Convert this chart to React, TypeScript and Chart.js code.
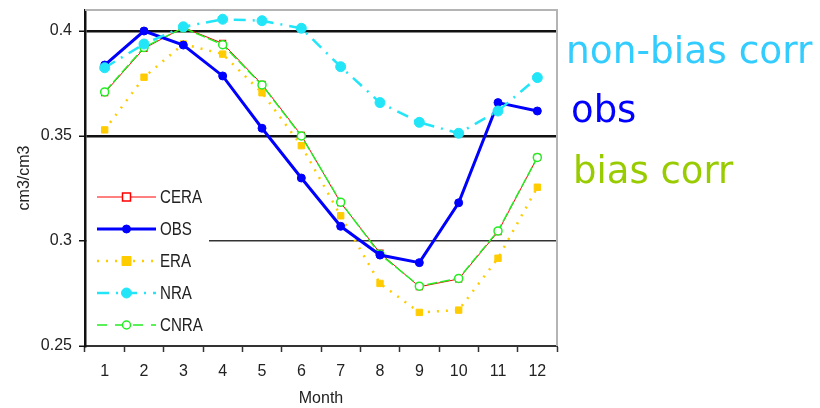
import React, { useEffect, useRef } from 'react';
import { Chart, registerables } from 'chart.js';

Chart.register(...registerables);

const months = ['1', '2', '3', '4', '5', '6', '7', '8', '9', '10', '11', '12'];
const cera = [0.3706, 0.3917, 0.4017, 0.3941, 0.3746, 0.3503, 0.3182, 0.2943, 0.2782, 0.2819, 0.3044, 0.3398];
const obs = [0.3838, 0.4, 0.3933, 0.3786, 0.3537, 0.33, 0.307, 0.2933, 0.2897, 0.3182, 0.3659, 0.3619];
const era = [0.3529, 0.378, 0.3938, 0.389, 0.3706, 0.3454, 0.312, 0.2798, 0.266, 0.2671, 0.2918, 0.3256];
const nra = [0.3825, 0.3938, 0.402, 0.4056, 0.4049, 0.4013, 0.383, 0.3659, 0.3565, 0.3513, 0.3619, 0.3778];
const cnra = [0.371, 0.3922, 0.4015, 0.3935, 0.3743, 0.35, 0.3185, 0.2937, 0.2785, 0.2822, 0.3048, 0.3398];
const yTicks = [0.25, 0.3, 0.35, 0.4];
const noteTexts = ['non-bias corr', 'obs', 'bias corr'];
const noteColors = ['#33ccff', '#0000ff', '#99cc00'];

const FONT = "'Liberation Sans', Arial, sans-serif";

const framePlugin = {
  id: 'frameAndLegend',
  beforeDatasetsDraw(chart: any) {
    const { ctx, chartArea } = chart;
    const { left, right, top, bottom } = chartArea;
    ctx.save();
    ctx.strokeStyle = '#b4b4b4';
    ctx.lineWidth = 2;
    ctx.beginPath();
    ctx.moveTo(left, top);
    ctx.lineTo(right, top);
    ctx.lineTo(right, bottom);
    ctx.stroke();
    ctx.fillStyle = '#ffffff';
    ctx.fillRect(left + 2, 183, 209 - left - 2, 156);
    const rowY0 = 197;
    const rowStep = 32;
    chart.data.datasets.forEach((ds: any, i: number) => {
      const y = rowY0 + i * rowStep;
      ctx.save();
      ctx.strokeStyle = ds.borderColor;
      ctx.lineWidth = ds.borderWidth;
      ctx.setLineDash(ds.legendDash || ds.borderDash || []);
      ctx.beginPath();
      ctx.moveTo(97, y);
      ctx.lineTo(156, y);
      ctx.stroke();
      ctx.setLineDash([]);
      const r = ds.pointRadius;
      ctx.fillStyle = ds.pointBackgroundColor;
      ctx.strokeStyle = ds.pointBorderColor;
      ctx.lineWidth = ds.pointBorderWidth;
      ctx.beginPath();
      if (ds.pointStyle === 'rect') {
        ctx.rect(126.5 - r, y - r, 2 * r, 2 * r);
      } else {
        ctx.arc(126.5, y, r, 0, Math.PI * 2);
      }
      ctx.fill();
      ctx.stroke();
      ctx.restore();
      ctx.save();
      ctx.fillStyle = '#222';
      ctx.font = `18px ${FONT}`;
      ctx.textBaseline = 'middle';
      ctx.textAlign = 'left';
      ctx.translate(160, y + 1);
      ctx.scale(0.84, 1);
      ctx.fillText(ds.label, 0, 0);
      ctx.restore();
    });
    ctx.restore();
  },
  afterDraw(chart: any) {
    const { ctx } = chart;
    ctx.save();
    ctx.textBaseline = 'alphabetic';
    ctx.textAlign = 'left';
    const xs = [566, 571, 573];
    const ys = [63, 122, 183];
    const sizes = [37.5, 37, 37];
    noteTexts.forEach((t, i) => {
      ctx.font = `${sizes[i]}px 'DejaVu Sans', Verdana, sans-serif`;
      ctx.fillStyle = noteColors[i];
      ctx.fillText(t, xs[i], ys[i]);
    });
    ctx.restore();
  },
};

export default function App() {
  const ref = useRef<HTMLCanvasElement>(null);
  useEffect(() => {
    if (!ref.current) return;
    const chart = new Chart(ref.current, {
      type: 'line',
      data: {
        labels: months,
        datasets: [
          {
            label: 'CERA',
            data: cera,
            borderColor: '#ff0000',
            borderWidth: 1,
            pointStyle: 'rect',
            pointRadius: 4,
            pointBackgroundColor: '#ffffff',
            pointBorderColor: '#ff0000',
            pointBorderWidth: 1.5,
            order: 4,
          },
          {
            label: 'OBS',
            data: obs,
            borderColor: '#0000ff',
            borderWidth: 3,
            pointStyle: 'circle',
            pointRadius: 4,
            pointBackgroundColor: '#0000ff',
            pointBorderColor: '#0000ff',
            pointBorderWidth: 1,
            order: 2,
          },
          {
            label: 'ERA',
            data: era,
            borderColor: '#ffcc00',
            borderWidth: 2.5,
            borderDash: [2, 7],
            pointStyle: 'rect',
            pointRadius: 4.5,
            pointBackgroundColor: '#ffcc00',
            pointBorderColor: '#ffcc00',
            pointBorderWidth: 1,
            order: 5,
          },
          {
            label: 'NRA',
            data: nra,
            borderColor: '#22e6f8',
            borderWidth: 2.5,
            borderDash: [12, 7, 2, 7],
            pointStyle: 'circle',
            pointRadius: 5,
            pointBackgroundColor: '#22e6f8',
            pointBorderColor: '#22e6f8',
            pointBorderWidth: 1,
            order: 1,
          },
          {
            label: 'CNRA',
            data: cnra,
            borderColor: '#22ee22',
            borderWidth: 1.5,
            borderDash: [10, 3],
            legendDash: [10, 8],
            pointStyle: 'circle',
            pointRadius: 4,
            pointBackgroundColor: '#ffffff',
            pointBorderColor: '#22ee22',
            pointBorderWidth: 1.5,
            order: 3,
          },
        ] as any,
      },
      options: {
        responsive: false,
        animation: false,
        layout: { padding: { left: 0, top: 10, right: 263, bottom: 0 } },
        plugins: {
          legend: { display: false },
          tooltip: { enabled: false },
        },
        elements: { line: { tension: 0 } },
        scales: {
          x: {
            type: 'category',
            offset: true,
            afterFit: (s: any) => {
              s.height = 62;
              s.paddingLeft = 0;
              s.paddingRight = 0;
            },
            grid: {
              offset: true,
              drawOnChartArea: false,
              drawTicks: true,
              tickLength: 6,
              tickColor: '#333',
              tickWidth: 1.5,
            },
            border: { color: '#333', width: 2 },
            ticks: {
              color: '#222',
              font: { family: FONT, size: 16 },
              padding: 10,
              maxRotation: 0,
            },
            title: {
              display: true,
              text: 'Month',
              color: '#222',
              font: { family: FONT, size: 16 },
              padding: { top: 0, bottom: 0 },
            },
          },
          y: {
            type: 'linear',
            min: 0.25,
            max: 0.41,
            afterFit: (s: any) => {
              s.width = 85;
              s.paddingTop = 0;
              s.paddingBottom = 0;
            },
            afterBuildTicks: (s: any) => {
              s.ticks = yTicks.map((v) => ({ value: v }));
            },
            grid: {
              color: (c: any) => {
                const v = c.tick && c.tick.value;
                if (v === 0.25) return 'rgba(0,0,0,0)';
                if (v === 0.3) return '#333';
                return '#111';
              },
              lineWidth: (c: any) => {
                const v = c.tick && c.tick.value;
                if (v === 0.3) return 1.5;
                return 2.5;
              },
              tickColor: '#111',
              tickWidth: 1.5,
              tickLength: 6,
            },
            border: { color: '#111', width: 2.5 },
            ticks: {
              color: '#222',
              font: { family: FONT, size: 16 },
              padding: 7,
              callback: (v: any) => String(Number(v)),
            },
            title: {
              display: true,
              text: 'cm3/cm3',
              color: '#222',
              font: { family: FONT, size: 16 },
              padding: { top: 15, bottom: 0 },
            },
          },
        },
      } as any,
      plugins: [framePlugin],
    });
    return () => chart.destroy();
  }, []);
  return (
    <div style={{ position: 'fixed', left: 0, top: 0, width: 820, height: 408, background: '#fff' }}>
      <canvas ref={ref} width={820} height={408} style={{ width: 820, height: 408, display: 'block' }} />
    </div>
  );
}
